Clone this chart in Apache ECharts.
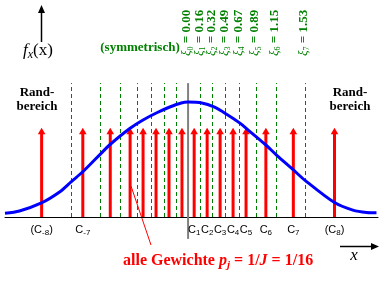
<!DOCTYPE html>
<html><head><meta charset="utf-8">
<script src="https://cdn.jsdelivr.net/npm/echarts@6/dist/echarts.min.js"></script>
<style>html,body{margin:0;padding:0;background:#fff}#c{width:385px;height:281px}</style>
</head><body><div id="c"></div>
<script>
// Density curve (x in standard units, y density)
const curveX = [-2.40, -2.21, -1.93, -1.68, -1.53, -1.38, -1.14, -1.03, -0.76, -0.59, -0.41, -0.24, -0.09, 0.00, 0.18, 0.34, 0.51, 0.68, 0.77, 1.02, 1.16, 1.37, 1.53, 1.92, 2.16, 2.34, 2.47];
const curveY = [0.013, 0.021, 0.048, 0.088, 0.123, 0.157, 0.221, 0.250, 0.308, 0.337, 0.362, 0.382, 0.396, 0.399, 0.396, 0.382, 0.356, 0.326, 0.306, 0.250, 0.215, 0.166, 0.128, 0.050, 0.024, 0.016, 0.015];
// Interval boundaries xi_j (symmetric)
const xiValues = [0.00, 0.16, 0.32, 0.49, 0.67, 0.89, 1.15, 1.53];
const xiLabels = ['0.00', '0.16', '0.32', '0.49', '0.67', '0.89', '1.15', '1.53'];
// Representatives C_j
const cValues = [-1.92, -1.38, -1.02, -0.76, -0.59, -0.42, -0.25, -0.08, 0.08, 0.25, 0.42, 0.59, 0.76, 1.02, 1.38, 1.92];
const cLabels = ['(C-8)', 'C-7', '', '', '', '', '', '', 'C1', 'C2', 'C3', 'C4', 'C5', 'C6', 'C7', '(C8)'];
const weightHeight = 0.31;   // arrow height (all weights equal)
const dashTop = 0.465;
const centerBottom = -0.076;

const boundaries = [];
xiValues.slice(1).forEach(v => { boundaries.push(-v); boundaries.push(v); });

const SERIF = '"Liberation Serif","Times New Roman",serif';
const SANS = '"Liberation Sans",Arial,sans-serif';

const chart = echarts.init(document.getElementById('c'), null, {renderer: 'canvas'});
chart.setOption({
  backgroundColor: '#fff',
  animation: false,
  grid: {left: 5, right: 7, top: 73, bottom: 6.4},
  xAxis: {type: 'value', min: -2.40, max: 2.49,
    axisLine: {show: true, onZero: true, lineStyle: {color: '#000', width: 1}},
    axisTick: {show: false}, axisLabel: {show: false}, splitLine: {show: false}},
  yAxis: {type: 'value', min: -0.2, max: 0.5, show: false},
  series: [
    { // dashed boundaries
      type: 'custom', clip: false, z: 1,
      data: boundaries.map(v => [v]),
      renderItem: (params, api) => {
        const a = api.coord([api.value(0), 0]);
        const b = api.coord([api.value(0), dashTop]);
        const x = Math.round(a[0]) + 0.5;
        return {type: 'line', shape: {x1: x, y1: a[1], x2: x, y2: b[1]},
          style: {stroke: '#008000', lineWidth: 1, lineDash: [4, 3]}};
      }
    },
    { // center line
      type: 'custom', clip: false, z: 2,
      data: [[xiValues[0]]],
      renderItem: (params, api) => {
        const a = api.coord([api.value(0), centerBottom]);
        const b = api.coord([api.value(0), dashTop]);
        return {type: 'line', shape: {x1: a[0], y1: a[1], x2: b[0], y2: b[1]},
          style: {stroke: '#808080', lineWidth: 2}};
      }
    },
    { // weight arrows
      type: 'custom', clip: false, z: 3,
      data: cValues.map(v => [v, weightHeight]),
      renderItem: (params, api) => {
        const b = api.coord([api.value(0), 0]);
        const t = api.coord([api.value(0), api.value(1)]);
        return {type: 'group', children: [
          {type: 'line', shape: {x1: b[0], y1: b[1], x2: t[0], y2: t[1] + 5},
            style: {stroke: '#ff0000', lineWidth: 3}},
          {type: 'polygon', shape: {points: [[t[0], t[1]], [t[0] - 3.8, t[1] + 6.5], [t[0] + 3.8, t[1] + 6.5]]},
            style: {fill: '#ff0000'}}
        ]};
      }
    },
    { // C labels
      type: 'custom', clip: false, z: 4,
      data: cValues.map((v, i) => [v, i]),
      renderItem: (params, api) => {
        const lab = cLabels[api.value(1)];
        if (!lab) return null;
        const b = api.coord([api.value(0), 0]);
        return {type: 'text', x: b[0], y: b[1] + 5,
          style: {text: lab.replace(/C(-?\d+)/, 'C{s|$1}'), align: 'center', verticalAlign: 'top',
            font: '11px ' + SANS, fill: '#000',
            rich: {s: {fontSize: 8, fontFamily: SANS, padding: [7, 0, 0, 0]}}}};
      }
    },
    { // xi labels
      type: 'custom', clip: false, z: 4,
      data: xiValues.map((v, i) => [v, i]),
      renderItem: (params, api) => {
        const i = api.value(1);
        const b = api.coord([api.value(0), 0]);
        return {type: 'text', x: b[0] - 1, y: 56, rotation: Math.PI / 2,
          style: {text: '{xi|ξ}{s|' + i + '}{b| = ' + xiLabels[i] + '}', align: 'left', verticalAlign: 'middle',
            fill: '#008000',
            rich: {
              xi: {fontFamily: SERIF, fontStyle: 'italic', fontSize: 13, fill: '#008000'},
              s: {fontFamily: SERIF, fontSize: 8, fill: '#008000', padding: [7, 0, 0, 0]},
              b: {fontFamily: SERIF, fontWeight: 'bold', fontSize: 13, fill: '#008000'}
            }}};
      }
    },
    { // density curve
      type: 'line', z: 5, smooth: 0.3, showSymbol: false, symbol: 'none',
      data: curveX.map((x, i) => [x, curveY[i]]),
      lineStyle: {color: '#0000ff', width: 3}
    }
  ],
  graphic: [
    {type: 'line', shape: {x1: 41.5, y1: 42, x2: 41.5, y2: 11}, style: {stroke: '#000', lineWidth: 1.5}},
    {type: 'polygon', shape: {points: [[41.5, 5], [38, 13], [45, 13]]}, style: {fill: '#000'}},
    {type: 'text', x: 38, y: 51, style: {text: '{f|f}{s|x}{p|(x)}', align: 'center', verticalAlign: 'middle',
      rich: {f: {fontFamily: SERIF, fontStyle: 'italic', fontSize: 17},
             s: {fontFamily: SERIF, fontStyle: 'italic', fontSize: 12, padding: [8, 0, 0, 0]},
             p: {fontFamily: SERIF, fontSize: 17}}}},
    {type: 'line', shape: {x1: 340, y1: 246.5, x2: 372, y2: 246.5}, style: {stroke: '#000', lineWidth: 1.5}},
    {type: 'polygon', shape: {points: [[379, 246.5], [371, 243], [371, 250]]}, style: {fill: '#000'}},
    {type: 'text', x: 354, y: 256, style: {text: 'x', font: 'italic 17px ' + SERIF, fill: '#000', align: 'center', verticalAlign: 'middle'}},
    {type: 'line', shape: {x1: 131, y1: 186, x2: 151, y2: 245}, style: {stroke: '#ff0000', lineWidth: 1}},
    {type: 'text', x: 123, y: 261, style: {text: '{r|alle Gewichte }{i|p}{s|j}{r| = 1/}{i|J}{r| = 1/16}', align: 'left', verticalAlign: 'middle',
      rich: {r: {fontFamily: SERIF, fontWeight: 'bold', fontSize: 16, fill: '#ff0000'},
             i: {fontFamily: SERIF, fontWeight: 'bold', fontStyle: 'italic', fontSize: 16, fill: '#ff0000'},
             s: {fontFamily: SERIF, fontWeight: 'bold', fontStyle: 'italic', fontSize: 11, fill: '#ff0000', padding: [8, 0, 0, 0]}}}},
    {type: 'text', x: 37, y: 100, style: {text: 'Rand-\nbereich', font: 'bold 13px ' + SERIF, lineHeight: 14, fill: '#000', align: 'center', verticalAlign: 'middle'}},
    {type: 'text', x: 350, y: 100, style: {text: 'Rand-\nbereich', font: 'bold 13px ' + SERIF, lineHeight: 14, fill: '#000', align: 'center', verticalAlign: 'middle'}},
    {type: 'text', x: 140, y: 48, style: {text: '(symmetrisch)', font: 'bold 13px ' + SERIF, fill: '#008000', align: 'center', verticalAlign: 'middle'}}
  ]
});
</script></body></html>
